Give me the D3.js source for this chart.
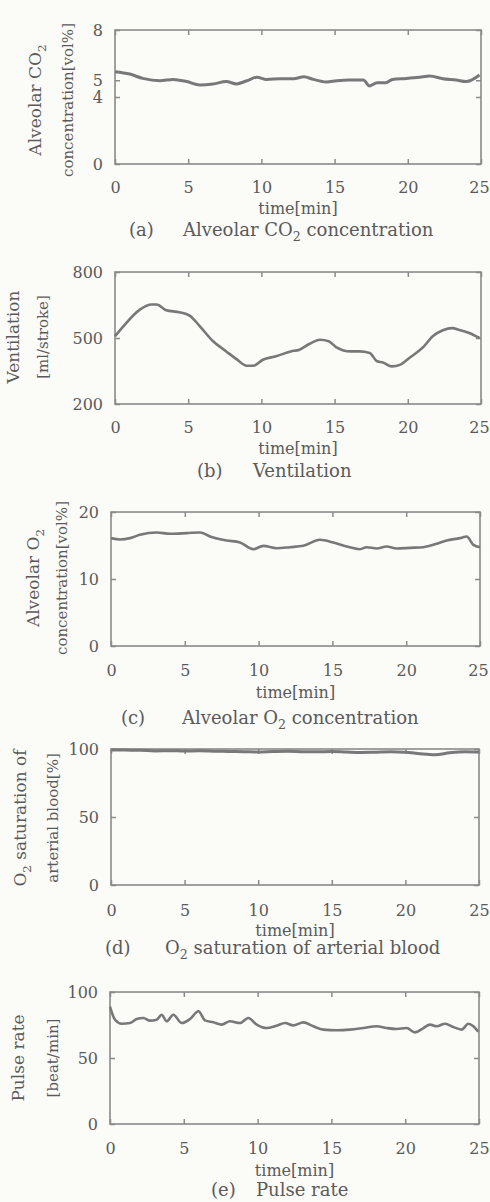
<!DOCTYPE html>
<html>
<head>
<meta charset="utf-8">
<script src="https://cdn.jsdelivr.net/npm/d3@7"></script>
<style>
  body { margin: 0; background: #fbfbf8; }
  svg { display: block; }
  text { font-family: "DejaVu Serif", serif; fill: #5a5a5a; }
</style>
</head>
<body>
<svg id="chart" width="490" height="1202"></svg>
<script>
// x axis (shared)
const xTicks = [0, 5, 10, 15, 20, 25];

// (a) alveolar CO2 [vol%]
const co2Time = [0, 1.0, 1.9, 3.07, 3.98, 4.9, 5.8, 6.7, 7.6, 8.3, 9.0, 9.7, 10.35, 11.3, 12.2, 12.9, 13.55, 14.45, 15.15, 16.0, 16.96, 17.4, 17.9, 18.5, 18.95, 19.9, 20.8, 21.5, 22.4, 23.3, 24.0, 24.9];
const co2Values = [5.51, 5.37, 5.11, 4.97, 5.05, 4.92, 4.72, 4.78, 4.92, 4.78, 4.97, 5.18, 5.05, 5.09, 5.09, 5.21, 5.05, 4.9, 4.97, 5.01, 5.01, 4.66, 4.85, 4.85, 5.05, 5.11, 5.18, 5.25, 5.09, 5.01, 4.92, 5.31];
const co2Ticks = [0, 4, 5, 8];

// (b) ventilation [ml/stroke]
const ventTime = [0, 0.57, 1.7, 2.5, 2.85, 3.5, 4.4, 5.1, 5.8, 6.7, 7.6, 8.3, 9.0, 9.45, 10.1, 11.0, 12.0, 12.6, 13.3, 14.0, 14.6, 15.1, 16.1, 16.7, 17.4, 17.9, 18.3, 18.9, 19.5, 20.1, 21.1, 21.7, 22.4, 23.0, 23.6, 24.2, 24.9];
const ventValues = [508, 553, 629, 652, 652, 626, 617, 602, 553, 485, 439, 404, 374, 374, 401, 417, 439, 447, 474, 492, 485, 459, 439, 439, 432, 394, 389, 371, 379, 409, 462, 508, 535, 545, 535, 523, 500];
const ventTicks = [200, 500, 800];

// (c) alveolar O2 [vol%]
const o2Time = [0, 0.61, 1.29, 1.96, 3.09, 4.0, 5.13, 6.03, 6.71, 7.84, 8.74, 9.64, 10.32, 11.22, 12.13, 13.03, 14.16, 15.06, 15.97, 16.87, 17.32, 18.0, 18.68, 19.35, 20.26, 21.16, 22.06, 22.74, 23.64, 24.1, 24.55, 25];
const o2Values = [16.1, 15.9, 16.1, 16.6, 16.95, 16.75, 16.85, 16.95, 16.35, 15.75, 15.45, 14.45, 14.95, 14.6, 14.75, 14.95, 15.85, 15.45, 14.85, 14.45, 14.75, 14.55, 14.85, 14.55, 14.65, 14.75, 15.25, 15.75, 16.1, 16.35, 15.1, 14.75];
const o2Ticks = [0, 10, 20];

// (d) O2 saturation of arterial blood [%]
const spo2Time = [0, 1, 2, 3, 4, 5, 6, 7, 8, 9, 10, 11, 12, 13, 14, 15, 16, 17, 18, 19, 20, 21, 22, 23, 24, 25];
const spo2Values = [99.3, 99.2, 99.0, 98.6, 98.8, 98.5, 98.7, 98.4, 98.2, 98.0, 97.8, 98.1, 98.3, 98.0, 97.9, 98.2, 97.8, 97.5, 97.7, 97.9, 97.6, 96.5, 95.8, 97.2, 98.0, 97.8];
const spo2Ticks = [0, 50, 100];

// (e) pulse rate [beat/min]
const pulseTime = [0, 0.34, 0.79, 1.36, 1.81, 2.26, 2.71, 3.16, 3.5, 3.84, 4.29, 4.86, 5.42, 5.99, 6.44, 7.0, 7.57, 8.13, 8.81, 9.37, 9.94, 10.61, 11.29, 11.86, 12.42, 13.1, 13.78, 14.45, 15.36, 16.26, 17.16, 18.07, 18.74, 19.42, 20.1, 20.66, 21.23, 21.68, 22.13, 22.7, 23.26, 23.83, 24.28, 24.62, 24.95];
const pulseValues = [89, 79, 76, 76.5, 79.5, 80.3, 78.3, 79, 82.8, 77.8, 82.8, 76.5, 79.5, 85.4, 78.5, 77, 75.3, 77.8, 76.5, 80.3, 75.3, 72.7, 74.5, 76.5, 74.7, 77, 74, 71.5, 71, 71.5, 72.7, 74, 72.7, 72, 72.7, 69.4, 72.7, 75.3, 74, 76, 73.5, 71.5, 76, 74, 70];
const pulseTicks = [0, 50, 100];

// panel layout (pixel boxes)
const panels = [
  { box: [115, 481, 30, 164], time: co2Time, values: co2Values, domain: [0, 8], ticks: co2Ticks, lw: 3,
    ylab: [["Alveolar CO", "2", ""], ["concentration[vol%]"]], ylabX: [35, 68], ylabY: 100,
    capTag: "(a)", capX: [129, 183], cap: ["Alveolar CO", "2", " concentration"],
    tickY: 187, xlabY: 208, capY: 230 },
  { box: [115, 481, 272, 404], time: ventTime, values: ventValues, domain: [200, 800], ticks: ventTicks, lw: 2.6,
    ylab: [["Ventilation"], ["[ml/stroke]"]], ylabX: [13, 43], ylabY: 337,
    capTag: "(b)", capX: [197, 253], cap: ["Ventilation"],
    tickY: 427, xlabY: 448, capY: 471 },
  { box: [111, 480, 512, 646], time: o2Time, values: o2Values, domain: [0, 20], ticks: o2Ticks, lw: 2.6,
    ylab: [["Alveolar O", "2", ""], ["concentration[vol%]"]], ylabX: [33, 62], ylabY: 578,
    capTag: "(c)", capX: [121, 182], cap: ["Alveolar O", "2", " concentration"],
    tickY: 670, xlabY: 692, capY: 718 },
  { box: [111, 479, 749, 885], time: spo2Time, values: spo2Values, domain: [0, 100], ticks: spo2Ticks, lw: 3,
    ylab: [["O", "2", " saturation of"], ["arterial blood[%]"]], ylabX: [20, 53], ylabY: 818,
    capTag: "(d)", capX: [105, 165], cap: ["O", "2", " saturation of arterial blood"],
    tickY: 910, xlabY: 930, capY: 948 },
  { box: [110, 479, 992, 1124], time: pulseTime, values: pulseValues, domain: [0, 100], ticks: pulseTicks, lw: 2.6,
    ylab: [["Pulse rate"], ["[beat/min]"]], ylabX: [18, 53], ylabY: 1058,
    capTag: "(e)", capX: [211, 256], cap: ["Pulse rate"],
    tickY: 1148, xlabY: 1170, capY: 1190 }
];

const svg = d3.select("#chart");
const axisColor = "#8a8a8a";
const lineColor = "#787878";

// writes text pieces, every second piece is a subscript
function richText(sel, parts, size) {
  parts.forEach((p, i) => {
    if (!p) return;
    const t = sel.append("tspan").text(p);
    if (i % 2 === 1) {
      t.attr("font-size", size * 0.7).attr("dy", size * 0.28);
    } else if (i > 0) {
      t.attr("dy", -size * 0.28);
    }
  });
}

panels.forEach(p => {
  const [L, R, T, B] = p.box;
  const x = d3.scaleLinear().domain([0, 25]).range([L, R]);
  const y = d3.scaleLinear().domain(p.domain).range([B, T]);
  const g = svg.append("g");

  // inward ticks on all four sides
  const tick = 5;
  const bottomAxis = g.append("g").attr("transform", `translate(0,${B})`)
    .call(d3.axisBottom(x).tickValues(xTicks).tickSizeInner(-tick).tickSizeOuter(0));
  g.append("g").attr("transform", `translate(0,${T})`)
    .call(d3.axisTop(x).tickValues(xTicks).tickSizeInner(-tick).tickSizeOuter(0).tickFormat(""));
  const leftAxis = g.append("g").attr("transform", `translate(${L},0)`)
    .call(d3.axisLeft(y).tickValues(p.ticks).tickSizeInner(-tick).tickSizeOuter(0));
  g.append("g").attr("transform", `translate(${R},0)`)
    .call(d3.axisRight(y).tickValues(p.ticks).tickSizeInner(-tick).tickSizeOuter(0).tickFormat(""));

  g.selectAll(".domain").remove();
  g.selectAll(".tick line").attr("stroke", axisColor).attr("stroke-width", 1.5);
  g.selectAll(".tick text").attr("fill", "#5a5a5a").attr("font-size", 16)
    .attr("font-family", "DejaVu Serif");

  // reposition tick labels; keep the last one inside the page
  bottomAxis.selectAll(".tick text").attr("y", p.tickY - B).attr("dy", "0.35em")
    .attr("dx", d => (d === 25 && R > 479 ? -2 : 0));
  leftAxis.selectAll(".tick text").attr("x", -12).attr("dy", "0.35em");

  // frame
  g.append("rect").attr("x", L).attr("y", T).attr("width", R - L).attr("height", B - T)
    .attr("fill", "none").attr("stroke", axisColor).attr("stroke-width", 1.6);

  // series line
  const pts = p.time.map((t, i) => [t, p.values[i]]);
  g.append("path").datum(pts)
    .attr("fill", "none").attr("stroke", lineColor).attr("stroke-width", p.lw)
    .attr("stroke-linejoin", "round")
    .attr("d", d3.line().x(d => x(d[0])).y(d => y(d[1])).curve(d3.curveMonotoneX));

  // x title
  g.append("text").attr("x", (L + R) / 2).attr("y", p.xlabY).attr("dy", "0.35em")
    .attr("text-anchor", "middle").attr("font-size", 16).text("time[min]");

  // caption
  g.append("text").attr("x", p.capX[0]).attr("y", p.capY).attr("dy", "0.35em")
    .attr("font-size", 18).text(p.capTag);
  richText(g.append("text").attr("x", p.capX[1]).attr("y", p.capY).attr("dy", "0.35em")
    .attr("font-size", 18), p.cap, 18);

  // y title, two rotated lines
  p.ylab.forEach((parts, i) => {
    const size = i === 0 ? 17 : 15;
    const t = g.append("text")
      .attr("transform", `translate(${p.ylabX[i]},${p.ylabY}) rotate(-90)`)
      .attr("text-anchor", "middle").attr("dy", "0.35em").attr("font-size", size);
    richText(t, parts, size);
  });
});
</script>
</body>
</html>
